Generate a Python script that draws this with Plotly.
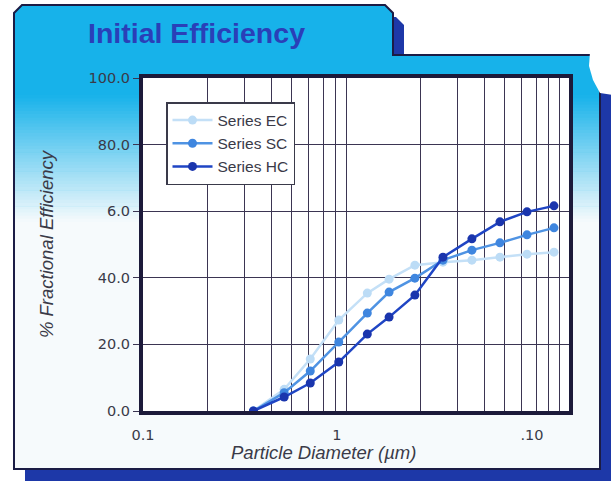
import plotly.graph_objects as go

# ---------------- data ----------------
diameters = [0.33, 0.46, 0.61, 0.83, 1.13, 1.43, 1.89, 2.56, 3.5, 4.74, 6.35, 8.5]
series_ec = [0, 6.5, 15.6, 27.3, 35.4, 39.6, 43.8, 44.7, 45.3, 46.2, 47.1, 47.7]
series_sc = [0, 5.5, 12.0, 20.7, 29.4, 35.7, 39.9, 45.3, 48.3, 50.5, 52.9, 55.0]
series_hc = [0, 4.2, 8.4, 14.7, 23.1, 28.2, 34.8, 46.2, 51.7, 56.8, 59.8, 61.6]
series_names = ["Series EC", "Series SC", "Series HC"]

y_tick_values = [0, 20, 40, 60, 80, 100]
y_tick_labels = ["0.0", "20.0", "40.0", "6.0", "80.0", "100.0"]
x_tick_labels = ["0.1", "1", ".10"]
x_label_positions = [0.1, 0.814, 6.7]
x_grid_values = [0.2, 0.3, 0.4, 0.5, 0.6, 0.7, 0.8, 0.9, 2, 3, 4, 5, 6, 7, 8, 9]

# ---------------- geometry helpers ----------------
W, H = 613, 481
L, R, T, B = 143, 569, 78, 411


def px(x):
    return (x - L) / (R - L)


def py(y):
    return (B - y) / (B - T)


def path(points, close=True):
    s = "M " + " L ".join(f"{px(x):.5f},{py(y):.5f}" for x, y in points)
    return s + (" Z" if close else "")


FONT = "Liberation Sans, Arial, Helvetica, sans-serif"
TICKFONT = "DejaVu Sans, Verdana, sans-serif"
colors = ["#c4e0f7", "#4f93e3", "#1f45c4"]
marker_colors = ["#bcdcf6", "#3f86df", "#1a35ad"]

fig = go.Figure()
for name, vals, c, mc in zip(series_names, [series_ec, series_sc, series_hc], colors, marker_colors):
    fig.add_trace(go.Scatter(
        x=diameters, y=vals, name=name, mode="lines+markers",
        line=dict(color=c, width=2.5),
        marker=dict(color=mc, size=9),
    ))

# ---------------- background decoration ----------------
shapes = []
panel = [(14, 469), (14, 13), (22, 5), (385, 5), (393, 13), (393, 55), (600, 55), (600, 469)]
dx, dy = 11, 12
shadow = [(x + dx, y + dy) for x, y in panel]
shapes.append(dict(type="path", path=path(shadow), xref="paper", yref="paper",
                   fillcolor="#1d38a8", line=dict(width=0), layer="below"))
shapes.append(dict(type="path", path=path(panel), xref="paper", yref="paper",
                   fillcolor="#17b2ea", line=dict(width=0), layer="below"))
# gradient strips cyan -> white
c0 = (23, 178, 234)
c1 = (246, 250, 252)
g0, g1 = 95, 222
n = 40
for i in range(n):
    y0 = g0 + (g1 - g0) * i / n
    y1 = g0 + (g1 - g0) * (i + 1) / n + 0.6
    t = (i + 0.5) / n
    col = tuple(int(round(a + (b - a) * t)) for a, b in zip(c0, c1))
    shapes.append(dict(type="rect", xref="paper", yref="paper",
                       x0=px(15), x1=px(599), y0=py(y0), y1=py(y1),
                       fillcolor=f"rgb{col}", line=dict(width=0), layer="below"))
shapes.append(dict(type="rect", xref="paper", yref="paper",
                   x0=px(15), x1=px(599), y0=py(g1), y1=py(468),
                   fillcolor="rgb(246,250,252)", line=dict(width=0), layer="below"))
# outline
shapes.append(dict(type="path", path=path(panel), xref="paper", yref="paper",
                   fillcolor="rgba(0,0,0,0)", line=dict(color="#1b1c45", width=2), layer="below"))
# torn white spot top-right
blob = [(590, 52), (613, 50), (613, 95), (600, 93), (593, 80), (589, 66)]
shapes.append(dict(type="path", path=path(blob), xref="paper", yref="paper",
                   fillcolor="#ffffff", line=dict(width=0), layer="below"))
# plot area white
shapes.append(dict(type="rect", xref="paper", yref="paper", x0=0, x1=1, y0=0, y1=1,
                   fillcolor="#ffffff", line=dict(width=0), layer="below"))

fig.update_layout(
    width=W, height=H,
    margin=dict(l=L, r=W - R, t=T, b=H - B),
    paper_bgcolor="#ffffff", plot_bgcolor="#ffffff",
    shapes=shapes,
    showlegend=True,
    title=dict(text="<b>Initial Efficiency</b>", x=88 / W, xref="container", xanchor="left",
               y=1 - 33 / H, yref="container", yanchor="middle",
               font=dict(family=FONT, size=28.5, color="#2a3fb8")),
    legend=dict(x=px(166), y=py(102), xanchor="left", yanchor="top",
                bgcolor="#ffffff", bordercolor="#3a3a4a", borderwidth=1.5,
                font=dict(family=FONT, size=15.5, color="#3a3a48"),
                itemwidth=40, tracegroupgap=0),
    font=dict(family=FONT, color="#3a3a48"),
    annotations=[dict(text="<i>Particle Diameter (µm)</i>", xref="paper", yref="paper",
                      x=px(323), y=py(452), xanchor="center", yanchor="middle",
                      showarrow=False, font=dict(family=FONT, size=18.5, color="#3a3a48"))],
)

fig.update_xaxes(
    type="log", range=[-1, 1],
    tickmode="array", tickvals=x_label_positions, ticktext=x_tick_labels,
    ticks="outside", ticklen=8, tickcolor="rgba(0,0,0,0)",
    tickfont=dict(family=TICKFONT, size=14.5, color="#3a3a48"),
    showgrid=False, zeroline=False,
    minor=dict(tickmode="array", tickvals=x_grid_values, showgrid=True,
               gridcolor="#3b3552", gridwidth=1.4, ticks=""),
    showline=True, linecolor="#1c1a3a", linewidth=4, mirror=True,
)
fig.update_yaxes(
    range=[0, 100], tickmode="array", tickvals=y_tick_values, ticktext=y_tick_labels,
    ticks="outside", ticklen=6, tickwidth=1.4, tickcolor="#3b3552",
    tickfont=dict(family=TICKFONT, size=14.5, color="#3a3a48"),
    showgrid=True, gridcolor="#3b3552", gridwidth=1.4, zeroline=False,
    showline=True, linecolor="#1c1a3a", linewidth=4, mirror=True,
    title=dict(text="<i>% Fractional Efficiency</i>", standoff=31,
               font=dict(family=FONT, size=18.5, color="#3a3a48")),
)

fig.write_html("out.html", config={"displayModeBar": False},
               post_script="document.body.style.margin='0';")
